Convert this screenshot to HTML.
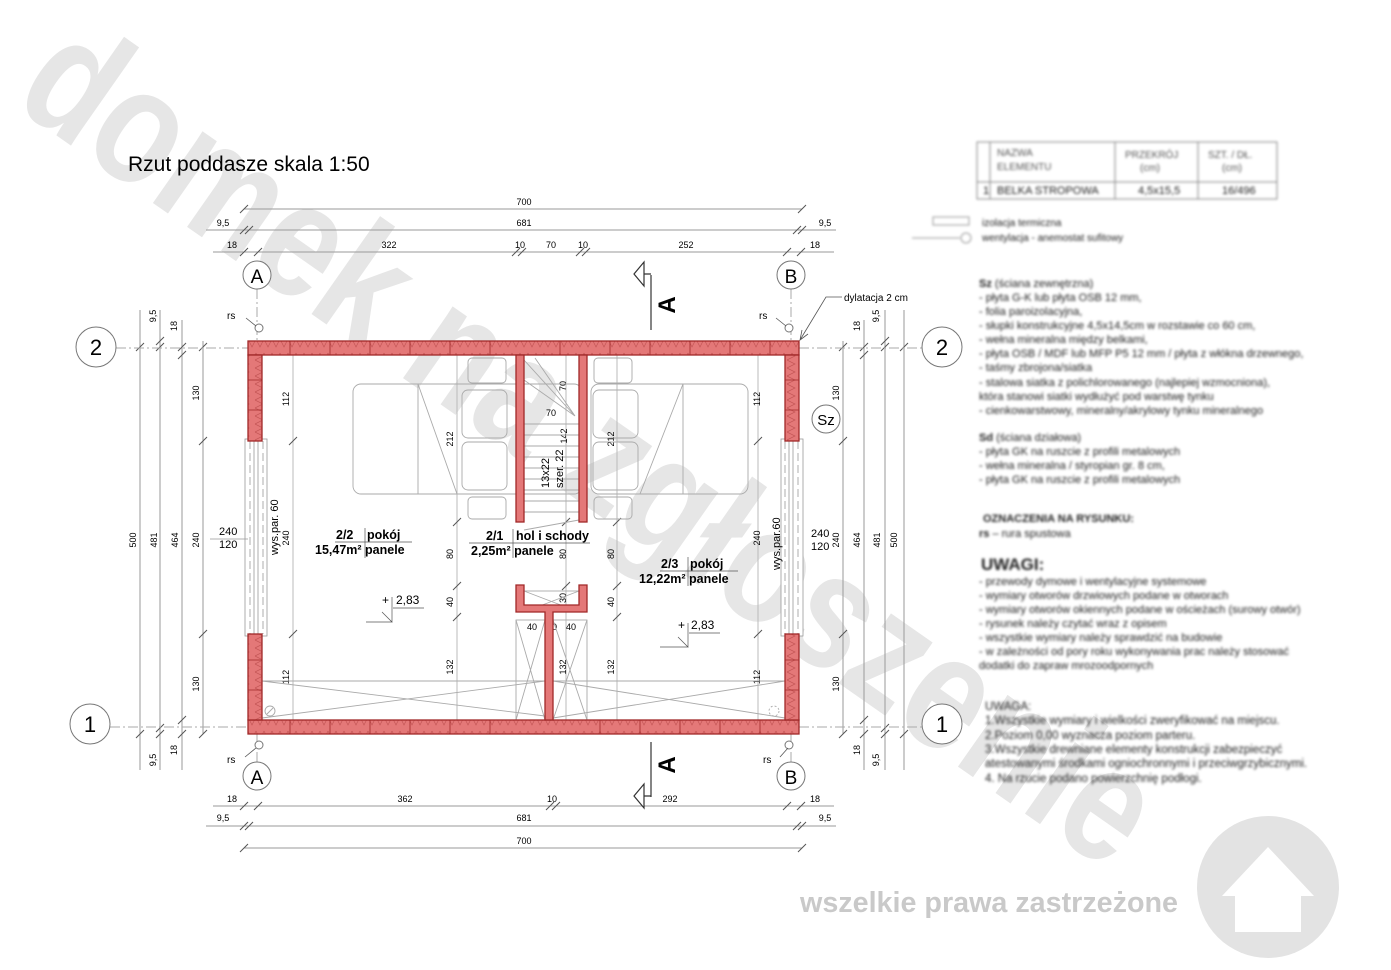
<!DOCTYPE html>
<html><head><meta charset="utf-8"><style>
html,body{margin:0;padding:0;background:#fff;}
svg{display:block}
.b{filter:blur(1.2px)}
</style></head><body>
<svg width="1391" height="970" viewBox="0 0 1391 970" xmlns="http://www.w3.org/2000/svg" font-family="Liberation Sans, sans-serif">
<defs>
<pattern id="zz" width="8" height="14" patternUnits="userSpaceOnUse">
<rect width="8" height="14" fill="#e47878"/>
<path d="M0 3 L4 11 L8 3" stroke="#c45656" stroke-width="0.7" fill="none"/>
</pattern>
<pattern id="zv" width="14" height="8" patternUnits="userSpaceOnUse">
<rect width="14" height="8" fill="#e47878"/>
<path d="M3 0 L11 4 L3 8" stroke="#c45656" stroke-width="0.7" fill="none"/>
</pattern>
</defs>

<!-- watermark -->
<text x="560" y="488" transform="rotate(35 560 488)" text-anchor="middle" font-size="165" font-weight="bold" fill="#e6e6e6" textLength="1340" lengthAdjust="spacingAndGlyphs">domek na zgłoszenie</text>

<!-- title -->
<text x="128" y="171" font-size="21" fill="#000">Rzut poddasze skala 1:50</text>

<g stroke="#999" stroke-width="1" fill="none">
<line x1="244" y1="209" x2="802" y2="209"/>
<line x1="206" y1="230" x2="836" y2="230"/>
<line x1="213" y1="252" x2="834" y2="252"/>
<line x1="213" y1="806" x2="834" y2="806"/>
<line x1="206" y1="826" x2="836" y2="826"/>
<line x1="244" y1="848" x2="802" y2="848"/>
<line x1="140" y1="310" x2="140" y2="770"/>
<line x1="160" y1="310" x2="160" y2="770"/>
<line x1="182" y1="320" x2="182" y2="770"/>
<line x1="203" y1="341" x2="203" y2="734"/>
<line x1="843" y1="341" x2="843" y2="734"/>
<line x1="864" y1="320" x2="864" y2="770"/>
<line x1="885" y1="310" x2="885" y2="770"/>
<line x1="904" y1="310" x2="904" y2="770"/>
<line x1="293" y1="355" x2="293" y2="720" stroke="#bbb"/>
<line x1="758" y1="355" x2="758" y2="720" stroke="#bbb"/>
<line x1="457" y1="355" x2="457" y2="720" stroke="#bbb"/>
<line x1="566" y1="355" x2="566" y2="720" stroke="#bbb"/>
<line x1="617" y1="355" x2="617" y2="720" stroke="#bbb"/>
</g>
<g stroke="#555" stroke-width="1">
<path d="M240 213 l8 -8 M798 213 l8 -8 M240 234 l8 -8 M245 234 l8 -8 M793 234 l8 -8 M798 234 l8 -8 M240 256 l8 -8 M254 256 l8 -8 M512 256 l8 -8 M518 256 l8 -8 M576 256 l8 -8 M582 256 l8 -8 M783 256 l8 -8 M797 256 l8 -8"/>
<path d="M240 810 l8 -8 M254 810 l8 -8 M546 810 l8 -8 M552 810 l8 -8 M783 810 l8 -8 M797 810 l8 -8 M240 830 l8 -8 M245 830 l8 -8 M793 830 l8 -8 M798 830 l8 -8 M240 852 l8 -8 M798 852 l8 -8"/>
<path d="M136 351 l8 -8 M156 351 l8 -8 M156 345 l8 -8 M178 351 l8 -8 M178 359 l8 -8 M199 351 l8 -8 M199 445 l8 -8 M199 638 l8 -8 M199 738 l8 -8 M136 738 l8 -8 M156 738 l8 -8 M156 732 l8 -8 M178 738 l8 -8 M178 724 l8 -8"/>
<path d="M839 351 l8 -8 M839 445 l8 -8 M839 638 l8 -8 M839 738 l8 -8 M860 351 l8 -8 M860 359 l8 -8 M860 738 l8 -8 M860 724 l8 -8 M881 351 l8 -8 M881 345 l8 -8 M881 738 l8 -8 M881 732 l8 -8 M900 351 l8 -8 M900 738 l8 -8"/>
<path d="M289 445 l8 -8 M289 638 l8 -8 M754 445 l8 -8 M754 638 l8 -8 M453 526 l8 -8 M453 590 l8 -8 M453 621 l8 -8 M613 526 l8 -8 M613 590 l8 -8 M613 621 l8 -8 M562 526 l8 -8 M562 590 l8 -8"/>
</g>
<g font-size="9" fill="#000" text-anchor="middle">
<text x="524" y="205">700</text><text x="524" y="226">681</text>
<text x="223" y="226">9,5</text><text x="825" y="226">9,5</text>
<text x="232" y="248">18</text><text x="389" y="248">322</text><text x="520" y="248">10</text><text x="551" y="248">70</text><text x="583" y="248">10</text><text x="686" y="248">252</text><text x="815" y="248">18</text>
<text x="232" y="802">18</text><text x="405" y="802">362</text><text x="552" y="802">10</text><text x="670" y="802">292</text><text x="815" y="802">18</text>
<text x="223" y="821">9,5</text><text x="524" y="821">681</text><text x="825" y="821">9,5</text>
<text x="524" y="844">700</text>
<text transform="translate(136 540) rotate(-90)">500</text>
<text transform="translate(157 540) rotate(-90)">481</text>
<text transform="translate(178 540) rotate(-90)">464</text>
<text transform="translate(199 540) rotate(-90)">240</text>
<text transform="translate(199 393) rotate(-90)">130</text>
<text transform="translate(199 684) rotate(-90)">130</text>
<text transform="translate(156 316) rotate(-90)">9,5</text>
<text transform="translate(177 326) rotate(-90)">18</text>
<text transform="translate(156 760) rotate(-90)">9,5</text>
<text transform="translate(177 750) rotate(-90)">18</text>
<text transform="translate(839 393) rotate(-90)">130</text>
<text transform="translate(839 540) rotate(-90)">240</text>
<text transform="translate(839 684) rotate(-90)">130</text>
<text transform="translate(860 540) rotate(-90)">464</text>
<text transform="translate(880 540) rotate(-90)">481</text>
<text transform="translate(897 540) rotate(-90)">500</text>
<text transform="translate(860 326) rotate(-90)">18</text>
<text transform="translate(879 316) rotate(-90)">9,5</text>
<text transform="translate(860 750) rotate(-90)">18</text>
<text transform="translate(879 760) rotate(-90)">9,5</text>
<text transform="translate(289 399) rotate(-90)">112</text>
<text transform="translate(289 538) rotate(-90)">240</text>
<text transform="translate(289 677) rotate(-90)">112</text>
<text transform="translate(760 399) rotate(-90)">112</text>
<text transform="translate(760 538) rotate(-90)">240</text>
<text transform="translate(760 677) rotate(-90)">112</text>
<text transform="translate(453 439) rotate(-90)">212</text>
<text transform="translate(614 439) rotate(-90)">212</text>
<text transform="translate(453 554) rotate(-90)">80</text>
<text transform="translate(614 554) rotate(-90)">80</text>
<text transform="translate(566 554) rotate(-90)">80</text>
<text transform="translate(453 602) rotate(-90)">40</text>
<text transform="translate(614 602) rotate(-90)">40</text>
<text transform="translate(566 598) rotate(-90)">30</text>
<text transform="translate(453 667) rotate(-90)">132</text>
<text transform="translate(614 667) rotate(-90)">132</text>
<text transform="translate(566 667) rotate(-90)">132</text>
<text transform="translate(566 386) rotate(-90)">70</text>
<text transform="translate(567 436) rotate(-90)">142</text>
<text x="551" y="416">70</text>
<text x="532" y="630">40</text><text x="571" y="630">40</text><text x="552" y="630">10</text>
</g>

<g stroke="#aaa" stroke-width="1" stroke-dasharray="10 3 2 3" fill="none">
<line x1="116" y1="348" x2="248" y2="348"/><line x1="799" y1="348" x2="922" y2="348"/>
<line x1="110" y1="727" x2="248" y2="727"/><line x1="799" y1="727" x2="922" y2="727"/>
<line x1="257" y1="289" x2="257" y2="341"/><line x1="791" y1="289" x2="791" y2="341"/>
<line x1="257" y1="734" x2="257" y2="762"/><line x1="791" y1="734" x2="791" y2="762"/>
</g>
<g stroke="#777" fill="#fff" stroke-width="1">
<circle cx="96" cy="347" r="20"/><circle cx="942" cy="347" r="20"/>
<circle cx="90" cy="724" r="20"/><circle cx="942" cy="724" r="20"/>
<circle cx="257" cy="275" r="14"/><circle cx="791" cy="275" r="14"/>
<circle cx="257" cy="776" r="14"/><circle cx="791" cy="776" r="14"/>
<circle cx="826" cy="419" r="14"/>
<circle cx="259" cy="328" r="4"/><circle cx="789" cy="328" r="4"/>
<circle cx="259" cy="745" r="4"/><circle cx="789" cy="745" r="4"/>
</g>
<g font-size="22" fill="#000" text-anchor="middle">
<text x="96" y="355">2</text><text x="942" y="355">2</text>
<text x="90" y="732">1</text><text x="942" y="732">1</text>
<text x="257" y="283" font-size="19">A</text><text x="791" y="283" font-size="19">B</text>
<text x="257" y="784" font-size="19">A</text><text x="791" y="784" font-size="19">B</text>
<text x="826" y="425" font-size="15">Sz</text>
</g>
<g font-size="10" fill="#000">
<text x="227" y="319">rs</text><text x="759" y="319">rs</text>
<text x="227" y="763">rs</text><text x="763" y="763">rs</text>
<text x="844" y="301">dylatacja 2 cm</text>
</g>
<g stroke="#555" fill="none" stroke-width="0.8">
<line x1="246" y1="318" x2="256" y2="326"/><line x1="776" y1="318" x2="786" y2="326"/>
<line x1="245" y1="757" x2="256" y2="748"/><line x1="780" y1="757" x2="788" y2="748"/>
<path d="M842 297 L826 297 L800 340 M802 330 L800 340 L808 334"/>
</g>

<g stroke="#333" fill="#fff" stroke-width="1.2">
<line x1="651" y1="275" x2="651" y2="330"/>
<path d="M651 274 L644 274 L644 262 L634 274 L644 286 L644 274"/>
<line x1="651" y1="742" x2="651" y2="797"/>
<path d="M651 796 L644 796 L644 784 L634 796 L644 808 L644 796"/>
</g>
<text transform="translate(675 305) rotate(-90)" text-anchor="middle" font-size="24" font-weight="bold">A</text>
<text transform="translate(675 765) rotate(-90)" text-anchor="middle" font-size="24" font-weight="bold">A</text>

<g stroke="#aaa" fill="none" stroke-width="0.9">
<rect x="353" y="384" width="229" height="110" rx="8"/>
<line x1="418" y1="384" x2="418" y2="494"/><line x1="418" y1="384" x2="457" y2="494"/>
<rect x="462" y="390" width="45" height="48" rx="6"/><rect x="462" y="442" width="45" height="48" rx="6"/>
<rect x="468" y="358" width="38" height="25" rx="4"/><rect x="468" y="497" width="38" height="22" rx="4"/>
<rect x="591" y="384" width="157" height="110" rx="8"/>
<line x1="683" y1="384" x2="683" y2="494"/><line x1="683" y1="384" x2="640" y2="494"/>
<rect x="593" y="390" width="45" height="48" rx="6"/><rect x="593" y="442" width="45" height="48" rx="6"/>
<rect x="594" y="358" width="38" height="25" rx="4"/><rect x="594" y="497" width="38" height="22" rx="4"/>
<path d="M524 360 L575 416 M535 358 L575 416 M524 380 L575 416 M524 424 L579 424 M524 435 L579 435 M524 446 L579 446 M524 457 L579 457 M524 468 L579 468 M524 479 L579 479 M524 490 L579 490 M524 501 L579 501 M524 512 L579 512 M524 530 L579 520"/>
<rect x="524" y="591" width="55" height="21"/><path d="M524 591 L579 612 M579 591 L524 612"/>
<rect x="516" y="620" width="29" height="100"/><path d="M516 620 L545 720 M545 620 L516 720"/>
<rect x="553" y="620" width="34" height="100"/><path d="M553 620 L587 720 M587 620 L553 720"/>
<line x1="262" y1="681" x2="785" y2="681"/>
<path d="M262 681 L545 716 M262 718 L545 681 M553 681 L785 718 M553 718 L785 681"/>
<circle cx="270" cy="711" r="5"/><circle cx="774" cy="711" r="5" stroke-dasharray="2 2"/>
<line x1="267" y1="714" x2="273" y2="708"/>
</g>
<g stroke="#999" fill="#fff" stroke-width="0.8">
<rect x="245" y="439" width="22" height="197"/>
<line x1="254" y1="441" x2="254" y2="634"/><line x1="258" y1="441" x2="258" y2="634"/>
<line x1="250" y1="441" x2="250" y2="634" stroke-dasharray="8 4"/><line x1="263" y1="441" x2="263" y2="634" stroke-dasharray="8 4"/>
<rect x="781" y="439" width="22" height="197"/>
<line x1="789" y1="441" x2="789" y2="634"/><line x1="793" y1="441" x2="793" y2="634"/>
<line x1="785" y1="441" x2="785" y2="634" stroke-dasharray="8 4"/><line x1="798" y1="441" x2="798" y2="634" stroke-dasharray="8 4"/>
</g>

<g stroke="#a02828" stroke-width="1.3">
<rect x="248" y="341" width="551" height="14" fill="url(#zz)"/>
<rect x="248" y="720" width="551" height="14" fill="url(#zz)"/>
<rect x="248" y="355" width="14" height="86" fill="url(#zv)"/>
<rect x="248" y="634" width="14" height="86" fill="url(#zv)"/>
<rect x="785" y="355" width="14" height="86" fill="url(#zv)"/>
<rect x="785" y="634" width="14" height="86" fill="url(#zv)"/>
<rect x="516" y="355" width="8" height="167" fill="#e47878"/>
<rect x="579" y="355" width="8" height="167" fill="#e47878"/>
<path d="M516 585 L524 585 L524 605 L579 605 L579 585 L587 585 L587 612 L553 612 L553 720 L545 720 L545 612 L516 612 Z" fill="#e47878"/>
</g>
<g stroke="#a02828" stroke-width="0.8">
<path d="M290 341 v14 M330 341 v14 M370 341 v14 M410 341 v14 M450 341 v14 M490 341 v14 M560 341 v14 M610 341 v14 M650 341 v14 M690 341 v14 M730 341 v14 M770 341 v14"/>
<path d="M290 720 v14 M330 720 v14 M370 720 v14 M410 720 v14 M450 720 v14 M490 720 v14 M600 720 v14 M640 720 v14 M680 720 v14 M720 720 v14 M760 720 v14"/>
<path d="M248 380 h14 M248 410 h14 M248 660 h14 M248 690 h14 M785 380 h14 M785 410 h14 M785 660 h14 M785 690 h14"/>
</g>

<g font-size="12.5" font-weight="bold" fill="#000">
<text x="336" y="539">2/2</text><text x="367" y="539">pokój</text>
<text x="315" y="554">15,47m² panele</text>
<text x="486" y="540">2/1</text><text x="516" y="540">hol i schody</text>
<text x="471" y="555">2,25m² panele</text>
<text x="661" y="568">2/3</text><text x="690" y="568">pokój</text>
<text x="639" y="583">12,22m² panele</text>
</g>
<g stroke="#555" stroke-width="0.7" fill="none">
<path d="M335 542 H412 M365 528 V558 M469 543 H590 M513 529 V558 M660 571 H738 M688 557 V586"/>
<path d="M392 597 V622 L382 612 M366 622 H392 M393 608 H424"/>
<path d="M688 623 V647 L678 637 M660 647 H688 M689 633 H720"/>
</g>
<g font-size="12" fill="#000">
<text x="382" y="604">+</text><text x="396" y="604">2,83</text>
<text x="678" y="629">+</text><text x="691" y="629">2,83</text>
<text x="219" y="535" font-size="11">240</text><text x="219" y="548" font-size="11">120</text>
<text x="811" y="537" font-size="11">240</text><text x="811" y="550" font-size="11">120</text>
<text transform="translate(278 555) rotate(-90)" font-size="11">wys.par. 60</text>
<text transform="translate(780 570) rotate(-90)" font-size="11">wys.par.60</text>
<text transform="translate(549 488) rotate(-90)" font-size="11">13x22</text>
<text transform="translate(563 488) rotate(-90)" font-size="11">szer. 22</text>
</g>
<line x1="210" y1="539" x2="248" y2="539" stroke="#999" stroke-width="0.7"/>

<g class="b" fill="#222" font-size="11">
<rect x="977" y="142" width="300" height="57" fill="none" stroke="#888"/>
<path d="M990 142 V199 M1115 142 V199 M1198 142 V199 M977 182 H1277" stroke="#888"/>
<text x="997" y="156" fill="#555" font-size="10">NAZWA</text><text x="997" y="170" fill="#555" font-size="10">ELEMENTU</text>
<text x="1125" y="158" fill="#555" font-size="10">PRZEKRÓJ</text><text x="1140" y="171" fill="#555" font-size="10">(cm)</text>
<text x="1208" y="158" fill="#555" font-size="10">SZT. / DŁ.</text><text x="1222" y="171" fill="#555" font-size="10">(cm)</text>
<text x="983" y="194">1</text><text x="997" y="194">BELKA STROPOWA</text><text x="1138" y="194">4,5x15,5</text><text x="1222" y="194">16/496</text>
<text x="982" y="226" font-size="10">izolacja termiczna</text>
<text x="982" y="241" font-size="10">wentylacja - anemostat sufitowy</text>
<rect x="933" y="217" width="36" height="8" fill="none" stroke="#999"/>
<line x1="912" y1="238" x2="960" y2="238" stroke="#999"/><circle cx="966" cy="238" r="5" fill="none" stroke="#999"/>
<text x="979" y="287"><tspan font-weight="bold">Sz</tspan> (ściana zewnętrzna)</text>
<text x="979" y="301">- płyta G-K lub płyta OSB 12 mm,</text>
<text x="979" y="315">- folia paroizolacyjna,</text>
<text x="979" y="329">- słupki konstrukcyjne 4,5x14,5cm w rozstawie co 60 cm,</text>
<text x="979" y="343">- wełna mineralna między belkami,</text>
<text x="979" y="357">- płyta OSB / MDF lub MFP P5 12 mm / płyta z włókna drzewnego,</text>
<text x="979" y="371">- taśmy zbrojona/siatka</text>
<text x="979" y="386">- stalowa siatka z polichlorowanego (najlepiej wzmocniona),</text>
<text x="979" y="400">która stanowi siatki wydłużyć pod warstwę tynku</text>
<text x="979" y="414">- cienkowarstwowy, mineralny/akrylowy tynku mineralnego</text>
<text x="979" y="441"><tspan font-weight="bold">Sd</tspan> (ściana działowa)</text>
<text x="979" y="455">- płyta GK na ruszcie z profili metalowych</text>
<text x="979" y="469">- wełna mineralna / styropian gr. 8 cm,</text>
<text x="979" y="483">- płyta GK na ruszcie z profili metalowych</text>
<text x="983" y="522" font-weight="bold">OZNACZENIA NA RYSUNKU:</text>
<text x="979" y="537"><tspan font-weight="bold">rs</tspan> – rura spustowa</text>
<text x="981" y="570" font-size="17" font-weight="bold">UWAGI:</text>
<text x="979" y="585">- przewody dymowe i wentylacyjne systemowe</text>
<text x="979" y="599">- wymiary otworów drzwiowych podane w otworach</text>
<text x="979" y="613">- wymiary otworów okiennych podane w ościeżach (surowy otwór)</text>
<text x="979" y="627">- rysunek należy czytać wraz z opisem</text>
<text x="979" y="641">- wszystkie wymiary należy sprawdzić na budowie</text>
<text x="979" y="655">- w zależności od pory roku wykonywania prac należy stosować</text>
<text x="979" y="669">dodatki do zapraw mrozoodpornych</text>
<text x="985" y="710" font-size="11.5">UWAGA:</text>
<text x="985" y="724" font-size="11.5">1.Wszystkie wymiary i wielkości zweryfikować na miejscu.</text>
<text x="985" y="739" font-size="11.5">2.Poziom 0,00 wyznacza poziom parteru.</text>
<text x="985" y="753" font-size="11.5">3.Wszystkie drewniane elementy konstrukcji zabezpieczyć</text>
<text x="985" y="767" font-size="11.5">atestowanymi środkami ogniochronnymi i przeciwgrzybicznymi.</text>
<text x="985" y="782" font-size="11.5">4. Na rzucie podano powierzchnię podłogi.</text>
</g>

<text x="800" y="912" font-size="29" font-weight="bold" fill="#c9c9c9" textLength="378" lengthAdjust="spacingAndGlyphs">wszelkie prawa zastrzeżone</text>
<circle cx="1268" cy="887" r="71" fill="#e3e3e3"/>
<path d="M1268 847 L1314 896 L1301 896 L1301 932 L1235 932 L1235 896 L1222 896 Z" fill="#fff"/>
</svg>
</body></html>
